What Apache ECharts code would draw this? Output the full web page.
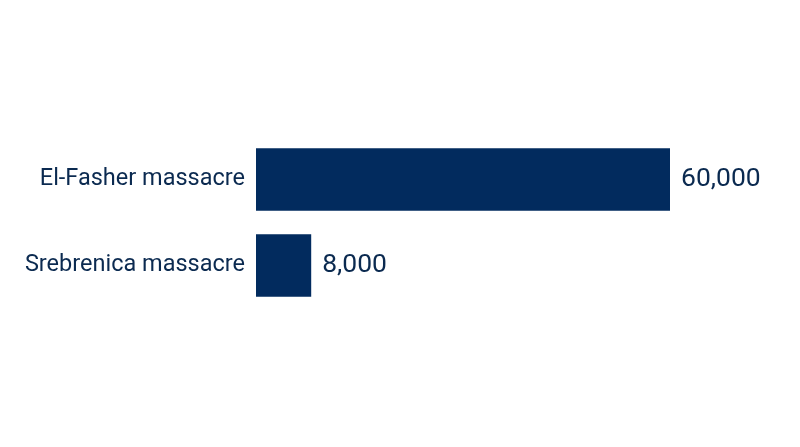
<!DOCTYPE html>
<html>
<head>
<meta charset="utf-8">
<script src="https://cdn.jsdelivr.net/npm/echarts@6/dist/echarts.min.js"></script>
<style>
html,body{margin:0;padding:0;background:#fff;}
#chart{width:800px;height:447px;}
</style>
</head>
<body>
<div id="chart"></div>
<script>
const categories = ["El-Fasher massacre", "Srebrenica massacre"];
const deaths = [60000, 8000];

const chart = echarts.init(document.getElementById('chart'));
chart.setOption({
  animation: false,
  backgroundColor: '#ffffff',
  grid: { left: 256, right: 130, top: 136.5, bottom: 138.5, containLabel: false },
  xAxis: {
    type: 'value', min: 0, max: 60000, show: false
  },
  yAxis: {
    type: 'category',
    data: categories,
    inverse: true,
    axisLine: { show: false },
    axisTick: { show: false },
    axisLabel: {
      margin: 11,
      fontFamily: 'Roboto',
      fontSize: 23.5,
      color: '#0b2a50',
      padding: [5, 0, 0, 0]
    }
  },
  series: [{
    type: 'bar',
    data: deaths,
    barWidth: 62.4,
    itemStyle: { color: '#022b5e' },
    label: {
      show: true,
      position: 'right',
      distance: 11,
      fontFamily: 'Roboto',
      fontSize: 26.5,
      color: '#0b2a50',
      formatter: p => p.value.toLocaleString('en-US')
    }
  }]
});
</script>
</body>
</html>
